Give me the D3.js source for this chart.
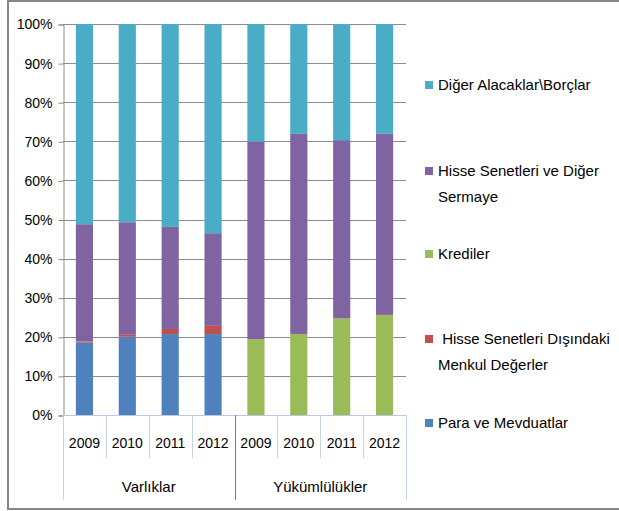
<!DOCTYPE html>
<html>
<head>
<meta charset="utf-8">
<script src="https://cdn.jsdelivr.net/npm/d3@7"></script>
<style>
  body { margin: 0; background: #fff; }
  svg { display: block; font-family: "Liberation Sans", Arial, sans-serif; }
</style>
</head>
<body>
<svg width="619" height="511"></svg>
<script>
// kategori / seri verileri (yüzde)
const years = ["2009", "2010", "2011", "2012", "2009", "2010", "2011", "2012"];
const groups = ["Varlıklar", "Yükümlülükler"];
const groupOf = [0, 0, 0, 0, 1, 1, 1, 1];

const para = [18.5, 20.0, 20.7, 20.7, 0, 0, 0, 0];
const menkul = [0.3, 0.5, 1.3, 2.1, 0, 0, 0, 0];
const krediler = [0, 0, 0, 0, 19.4, 20.7, 24.7, 25.6];
const hisse = [30.0, 28.8, 26.1, 23.7, 50.5, 51.2, 45.6, 46.3];
const diger = [51.2, 50.7, 51.9, 53.5, 30.1, 28.1, 29.7, 28.1];

const seriesNames = ["para", "menkul", "krediler", "hisse", "diger"];
const seriesLabels = {
  para: ["Para ve Mevduatlar"],
  menkul: [" Hisse Senetleri Dışındaki", "Menkul Değerler"],
  krediler: ["Krediler"],
  hisse: ["Hisse Senetleri ve Diğer", "Sermaye"],
  diger: ["Diğer Alacaklar\\Borçlar"]
};
const colors = {
  para: "#4f81bd",
  menkul: "#c0504d",
  krediler: "#9bbb59",
  hisse: "#8064a2",
  diger: "#4bacc6"
};
const yTicks = [0, 0.1, 0.2, 0.3, 0.4, 0.5, 0.6, 0.7, 0.8, 0.9, 1];

const rows = years.map((y, i) => ({
  idx: i,
  para: para[i] / 100,
  menkul: menkul[i] / 100,
  krediler: krediler[i] / 100,
  hisse: hisse[i] / 100,
  diger: diger[i] / 100
}));

const svg = d3.select("svg");
const plotL = 63, plotR = 406, plotT = 24, plotB = 415;

// dış çerçeve
svg.append("rect")
  .attr("x", 8).attr("y", 1)
  .attr("width", 640).attr("height", 508)
  .attr("fill", "none")
  .attr("stroke", "#868686")
  .attr("stroke-width", 2);

const x = d3.scaleBand()
  .domain(d3.range(years.length))
  .range([plotL, plotR])
  .paddingInner(0.6)
  .paddingOuter(0.3);

const y = d3.scaleLinear().domain([0, 1]).range([plotB, plotT]);

// yatay ızgara
svg.append("g")
  .selectAll("line")
  .data(yTicks.slice(1))
  .enter()
  .append("line")
  .attr("x1", plotL).attr("x2", plotR)
  .attr("y1", (d) => Math.round(y(d)) + 0.5)
  .attr("y2", (d) => Math.round(y(d)) + 0.5)
  .attr("stroke", "#8c8c8c");

// y ekseni
const yAxis = svg.append("g")
  .attr("transform", `translate(${plotL + 0.5},0.5)`)
  .call(d3.axisLeft(y).tickValues(yTicks).tickFormat(d3.format(".0%")).tickSize(5).tickPadding(6));
yAxis.select(".domain").attr("stroke", "#8c8c8c");
yAxis.selectAll(".tick line").attr("stroke", "#8c8c8c");
yAxis.selectAll("text")
  .attr("font-size", "14px")
  .attr("fill", "#000")
  .attr("font-family", "Liberation Sans, Arial, sans-serif");

// yığılmış çubuklar
const stack = d3.stack().keys(seriesNames);
const stacked = stack(rows);

svg.append("g")
  .selectAll("g")
  .data(stacked)
  .enter()
  .append("g")
  .attr("fill", (d) => colors[d.key])
  .selectAll("rect")
  .data((d) => d)
  .enter()
  .append("rect")
  .attr("x", (d) => x(d.data.idx))
  .attr("width", x.bandwidth())
  .attr("y", (d) => y(d[1]))
  .attr("height", (d) => Math.max(0, y(d[0]) - y(d[1])));

// x ekseni
const cellW = (plotR - plotL) / years.length;
const cellLeft = (i) => plotL + i * cellW;

svg.append("line")
  .attr("x1", plotL).attr("x2", plotR)
  .attr("y1", plotB + 0.5).attr("y2", plotB + 0.5)
  .attr("stroke", "#b9c9e4");

svg.append("g")
  .selectAll("line")
  .data(d3.range(years.length + 1))
  .enter()
  .append("line")
  .attr("x1", (i) => Math.round(cellLeft(i)) + 0.5)
  .attr("x2", (i) => Math.round(cellLeft(i)) + 0.5)
  .attr("y1", plotB)
  .attr("y2", (i) => (i % 4 === 0 ? 500 : 458))
  .attr("stroke", (i) => (i === 4 ? "#4f81bd" : "#c5d3ec"));

svg.append("g")
  .selectAll("text")
  .data(years)
  .enter()
  .append("text")
  .attr("x", (d, i) => cellLeft(i) + cellW / 2)
  .attr("y", 448)
  .attr("text-anchor", "middle")
  .attr("font-size", "14px")
  .text((d) => d);

svg.append("g")
  .selectAll("text")
  .data(groups)
  .enter()
  .append("text")
  .attr("x", (d, gi) => {
    const idx = groupOf.map((g, i) => (g === gi ? i : -1)).filter((i) => i >= 0);
    return (cellLeft(idx[0]) + cellLeft(idx[idx.length - 1] + 1)) / 2;
  })
  .attr("y", 492)
  .attr("text-anchor", "middle")
  .attr("font-size", "15px")
  .text((d) => d);

// lejant
const legendOrder = ["diger", "hisse", "krediler", "menkul", "para"];
const legendY = { diger: 85, hisse: 171, krediler: 254, menkul: 339, para: 423 };

const legend = svg.append("g")
  .selectAll("g")
  .data(legendOrder)
  .enter()
  .append("g")
  .attr("transform", (d) => `translate(0,${legendY[d]})`);

legend.append("rect")
  .attr("x", 425).attr("y", -4)
  .attr("width", 8).attr("height", 8)
  .attr("fill", (d) => colors[d]);

legend.append("text")
  .attr("x", 438)
  .attr("font-size", "15px")
  .attr("fill", "#000")
  .style("white-space", "pre")
  .selectAll("tspan")
  .data((d) => seriesLabels[d])
  .enter()
  .append("tspan")
  .attr("x", 438)
  .attr("y", (d, i) => 5 + i * 26)
  .text((d) => d);
</script>
</body>
</html>
